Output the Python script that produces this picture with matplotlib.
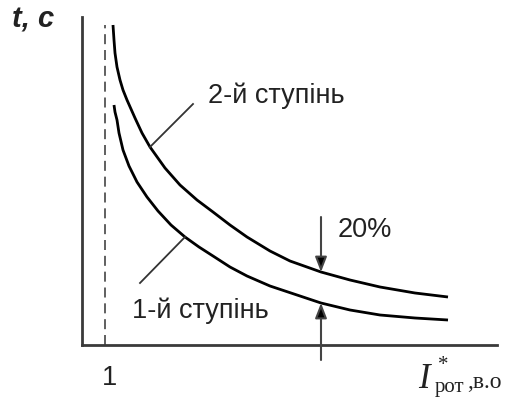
import matplotlib
matplotlib.use("Agg")
import matplotlib.pyplot as plt

# ---- data ----
I_upper = [1.08, 1.09, 1.10, 1.12, 1.15, 1.18, 1.22, 1.26, 1.30, 1.37, 1.45, 1.60,
           1.75, 1.92, 2.08, 2.25, 2.42, 2.65, 2.85, 3.16, 3.45, 3.75, 4.10, 4.43]
t_upper = [3.20, 3.05, 2.92, 2.78, 2.65, 2.55, 2.45, 2.36, 2.27, 2.12, 1.98, 1.77,
           1.60, 1.45, 1.33, 1.20, 1.08, 0.94, 0.84, 0.73, 0.65, 0.58, 0.52, 0.48]

I_lower = [1.09, 1.10, 1.12, 1.14, 1.18, 1.24, 1.32, 1.42, 1.53, 1.66, 1.80,
           1.94, 2.08, 2.25, 2.42, 2.65, 2.95, 3.16, 3.45, 3.75, 4.10, 4.43]
t_lower = [2.40, 2.33, 2.25, 2.12, 1.95, 1.79, 1.63, 1.48, 1.34, 1.20, 1.08,
           0.98, 0.89, 0.78, 0.69, 0.59, 0.49, 0.42, 0.35, 0.30, 0.27, 0.25]

I_nominal = 1.0
tick_label = "1"
label_upper = "2-й ступінь"
label_lower = "1-й ступінь"
label_gap = "20%"
I_gap = 3.16
t_gap_upper = 0.73
t_gap_lower = 0.42

SANS = ["Liberation Sans", "DejaVu Sans"]
SERIF = ["Liberation Serif", "DejaVu Serif"]

fig = plt.figure(figsize=(5.15, 4.01), dpi=100)
ax = fig.add_axes([82/515, 1 - 345/401, (497-82)/515, (345-17)/401])
ax.set_xlim(0.77, 4.92)
ax.set_ylim(0, 3.28)

for s in ["top", "right"]:
    ax.spines[s].set_visible(False)
for s in ["left", "bottom"]:
    ax.spines[s].set_linewidth(2.0)
    ax.spines[s].set_color("#3a3a3a")
ax.set_xticks([])
ax.set_yticks([])

# curves
for xs, ys in [(I_upper, t_upper), (I_lower, t_lower)]:
    ax.plot(xs, ys, color="black", lw=2.0, solid_capstyle="butt",
            solid_joinstyle="round")

# dashed line at I = 1
ax.plot([I_nominal, I_nominal], [0, 3.20], color="#444444", lw=1.2,
        linestyle=(0, (6, 3.5)))

# leader lines
ax.plot([1.45, 1.88], [1.98, 2.41], color="#333333", lw=1.3)
ax.plot([1.80, 1.35], [1.08, 0.62], color="#333333", lw=1.3)

# arrows
arrow_kw = dict(arrowstyle="-|>,head_length=0.9,head_width=0.35",
                color="#444444", lw=1.5, shrinkA=0, shrinkB=0, fc="black")
ax.annotate("", xy=(I_gap, t_gap_upper), xytext=(I_gap, 1.28),
            arrowprops=arrow_kw, annotation_clip=False)
ax.annotate("", xy=(I_gap, t_gap_lower), xytext=(I_gap, -0.15),
            arrowprops=arrow_kw, annotation_clip=False)

# texts
ax.text(2.03, 2.42, label_upper, family=SANS, fontsize=19.5, color="#222222",
        va="baseline", ha="left")
ax.text(1.27, 0.27, label_lower, family=SANS, fontsize=19.5, color="#222222",
        va="baseline", ha="left")
ax.text(3.33, 1.08, label_gap, family=SANS, fontsize=19.5, color="#222222",
        va="baseline", ha="left")
ax.text(1.05, -0.40, tick_label, family=SANS, fontsize=19.5, color="#222222",
        va="baseline", ha="center", clip_on=False)

# y label
ax.text(0.07, 3.18, "t, с", family=SANS, fontsize=21, fontweight="bold",
        fontstyle="italic", color="#222222", va="baseline", ha="left", clip_on=False)

# x label pieces
ax.text(4.13, -0.43, "I", family=SERIF, fontsize=25, fontstyle="italic",
        color="#222222", va="baseline", ha="left", clip_on=False)
ax.text(4.33, -0.25, "*", family=SERIF, fontsize=15,
        color="#222222", va="baseline", ha="left", clip_on=False)
ax.text(4.30, -0.47, "рот", family=SERIF, fontsize=15,
        color="#222222", va="baseline", ha="left", clip_on=False)
ax.text(4.62, -0.43, ",в.о", family=SERIF, fontsize=17,
        color="#222222", va="baseline", ha="left", clip_on=False)

fig.savefig("out.png", dpi=100)
